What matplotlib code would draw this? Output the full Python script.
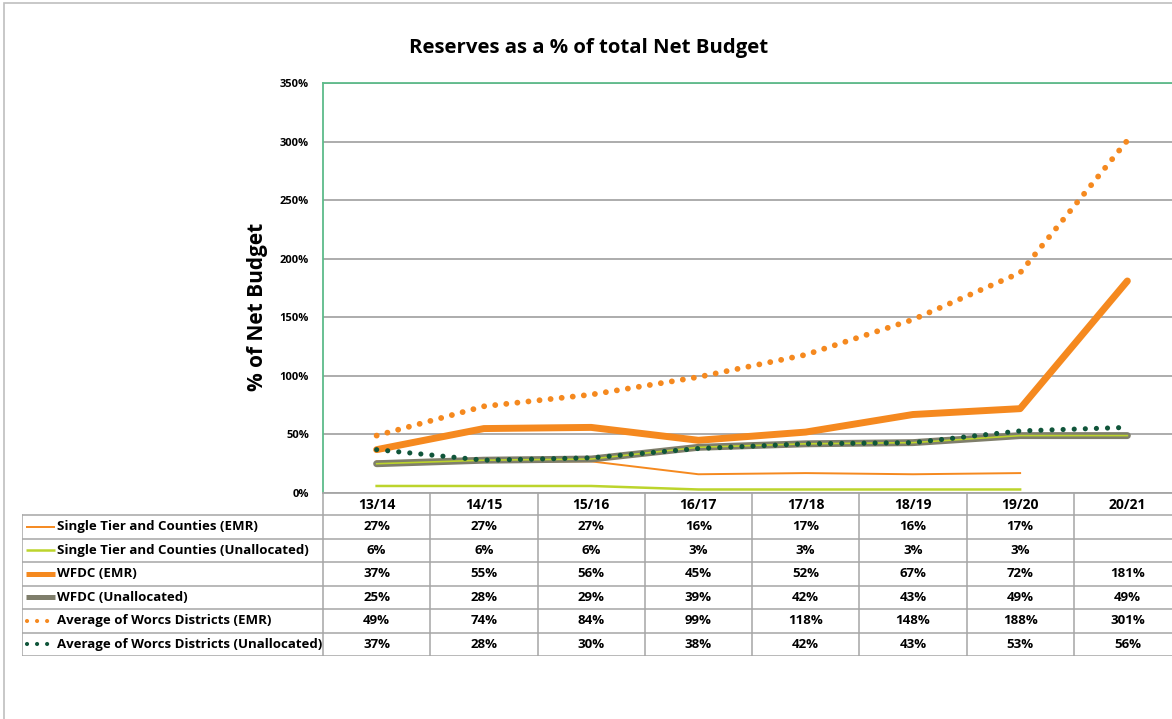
import numpy as np
import matplotlib.pyplot as plt
from matplotlib.lines import Line2D
from matplotlib.patches import Rectangle

plt.rcParams['font.family'] = ['Open Sans', 'DejaVu Sans']

years = ['13/14', '14/15', '15/16', '16/17', '17/18', '18/19', '19/20', '20/21']
single_tier_emr = [27, 27, 27, 16, 17, 16, 17, np.nan]
single_tier_unalloc = [6, 6, 6, 3, 3, 3, 3, np.nan]
wfdc_emr = [37, 55, 56, 45, 52, 67, 72, 181]
wfdc_unalloc = [25, 28, 29, 39, 42, 43, 49, 49]
avg_worcs_emr = [49, 74, 84, 99, 118, 148, 188, 301]
avg_worcs_unalloc = [37, 28, 30, 38, 42, 43, 53, 56]

ORANGE = '#F5891F'
LIME = '#BCD42C'
GREY = '#7F7E6B'
DKGREEN = '#10553A'
GRID = '#A6A6A6'
SPINE = '#5DBB8A'

series = [
    ('Single Tier and Counties (EMR)', single_tier_emr,
     dict(color=ORANGE, lw=1.4)),
    ('Single Tier and Counties (Unallocated)', single_tier_unalloc,
     dict(color=LIME, lw=1.8)),
    ('WFDC (EMR)', wfdc_emr,
     dict(color=ORANGE, lw=5, solid_capstyle='round', solid_joinstyle='round')),
    ('WFDC (Unallocated)', wfdc_unalloc,
     dict(color=GREY, lw=5, solid_capstyle='round', solid_joinstyle='round')),
    ('Average of Worcs Districts (EMR)', avg_worcs_emr,
     dict(color=ORANGE, lw=4.2, linestyle=(0, (0.01, 1.9)), dash_capstyle='round')),
    ('Average of Worcs Districts (Unallocated)', avg_worcs_unalloc,
     dict(color=DKGREEN, lw=3.7, linestyle=(0, (0.01, 2.15)), dash_capstyle='round')),
]

W, H = 1172, 719
fig = plt.figure(figsize=(W / 100, H / 100), dpi=100)

# chart frame
fig.add_artist(Rectangle((4 / W, -0.1), 1.2, (H - 3) / H + 0.1, transform=fig.transFigure,
                         fill=False, edgecolor='#BFBFBF', lw=1.2))

# plot area in pixels
left, right, top, bottom = 323, 1181, 83, 493
colw = (right - left) / len(years)
ax = fig.add_axes([left / W, 1 - bottom / H, (right - left) / W, (bottom - top) / H])

x = np.arange(len(years))
lines = {}
for name, vals, style in series:
    lines[name], = ax.plot(x, vals, zorder=3, **style)
# thin highlight running along the WFDC (Unallocated) band, under the green dots
ax.plot(x, wfdc_unalloc, color=LIME, lw=1.2, zorder=3.2)
lines['Average of Worcs Districts (Unallocated)'].set_zorder(4)

ax.set_xlim(-0.5, len(years) - 0.5)
ax.set_ylim(0, 350)
ax.set_yticks(range(0, 351, 50))
ax.set_yticklabels([f'{t}%' for t in range(0, 351, 50)], fontsize=8, fontweight='bold')
ax.set_xticks([])
ax.tick_params(axis='y', length=0, pad=10)
ax.grid(axis='y', color=GRID, lw=1.3)
ax.set_axisbelow(True)
for s in ['left', 'top']:
    ax.spines[s].set_color(SPINE)
    ax.spines[s].set_linewidth(1.3)
ax.spines['right'].set_visible(False)
ax.spines['bottom'].set_color(GRID)
ax.spines['bottom'].set_linewidth(1.3)

fig.text(258 / W, 1 - 307 / H, '% of Net Budget', rotation=90, ha='center', va='center',
         fontsize=15, fontweight='bold')
fig.text(589 / W, 1 - 48 / H, 'Reserves as a % of total Net Budget',
         ha='center', va='center', fontsize=14.7, fontweight='bold')

# data table under the plot
tleft, tbottom = 22, 656
head_h = 22
row_h = (tbottom - bottom - head_h) / len(series)
tab = fig.add_axes([tleft / W, 1 - tbottom / H, (right - tleft) / W, (tbottom - bottom) / H])
tab.set_xlim(tleft, right)
tab.set_ylim(tbottom - bottom, 0)
tab.axis('off')

line_kw = dict(color=GRID, lw=1.1)
# header row
for i, yr in enumerate(years):
    cx = left + colw * (i + 0.5)
    tab.text(cx, head_h / 2 + 1, yr, ha='center', va='center', fontsize=10, fontweight='bold')
for i in range(len(years) + 1):
    tab.plot([left + colw * i] * 2, [0, tbottom - bottom], **line_kw)
tab.plot([tleft, tleft], [head_h, tbottom - bottom], **line_kw)
for k in range(len(series) + 1):
    yy = head_h + row_h * k
    tab.plot([tleft, right], [yy, yy], **line_kw)

for k, (name, vals, style) in enumerate(series):
    cy = head_h + row_h * (k + 0.5)
    key = dict(style)
    if 'linestyle' in style:
        key['lw'] = 3.0
        key['linestyle'] = (0, (0.01, 2.4))
        tab.add_line(Line2D([27, 54], [cy, cy], **key))
    else:
        if style['lw'] > 3:
            key['lw'] = 3.6
        key['solid_capstyle'] = 'butt'
        tab.add_line(Line2D([26, 55], [cy, cy], **key))
    tab.text(57, cy, name, ha='left', va='center', fontsize=9.5, fontweight='bold')
    for i, v in enumerate(vals):
        if np.isnan(v):
            continue
        tab.text(left + colw * (i + 0.5), cy, f'{v:.0f}%', ha='center', va='center',
                 fontsize=9.5, fontweight='bold')

fig.savefig('out.png', dpi=100)
